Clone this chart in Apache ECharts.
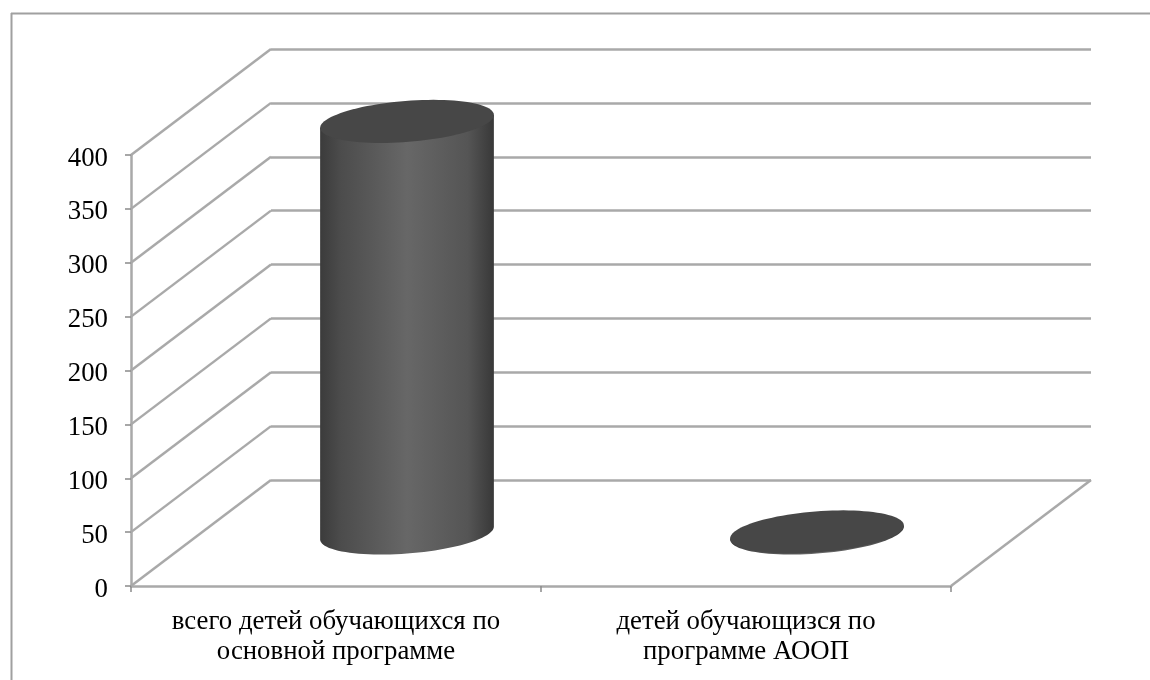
<!DOCTYPE html>
<html>
<head>
<meta charset="utf-8">
<script src="https://cdn.jsdelivr.net/npm/echarts@6/dist/echarts.min.js"></script>
<style>html,body{margin:0;padding:0;background:#fff}#c{width:1150px;height:680px}</style>
</head>
<body>
<div id="c"></div>
<script>
var categories = ['всего детей обучающихся по\nосновной программе', 'детей обучающизся по\nпрограмме АООП'];
var values = [382, 1];
var yTicks = [0, 50, 100, 150, 200, 250, 300, 350, 400];

var GREY = '#a9a9a9';
var DX = 140, DY = -106;
var FRONT = {left: 131, top: 155, width: 820, height: 431};
var FONT = '"Liberation Serif","Times New Roman",serif';

function ellipsePoint(cx, cy, a, b, th, t) {
  var x = a * Math.cos(t), y = b * Math.sin(t);
  return [cx + x * Math.cos(th) + y * Math.sin(th), cy - x * Math.sin(th) + y * Math.cos(th)];
}
function ellipsePoints(cx, cy, a, b, th) {
  var p = [];
  for (var i = 0; i < 96; i++) p.push(ellipsePoint(cx, cy, a, b, th, i / 96 * Math.PI * 2));
  return p;
}

var chart = echarts.init(document.getElementById('c'), null, {renderer: 'canvas'});
chart.setOption({
  animation: false,
  backgroundColor: '#fff',
  graphic: [
    {type: 'line', silent: true, shape: {x1: 11, y1: 13.5, x2: 1150, y2: 13.5}, style: {stroke: '#a0a0a0', lineWidth: 2}},
    {type: 'line', silent: true, shape: {x1: 11.5, y1: 13, x2: 11.5, y2: 680}, style: {stroke: '#a0a0a0', lineWidth: 2}}
  ],
  grid: [
    FRONT,
    {left: FRONT.left + DX, top: FRONT.top + DY, width: FRONT.width, height: FRONT.height},
    {left: FRONT.left + DX / 2 + 1, top: FRONT.top + DY / 2, width: FRONT.width, height: FRONT.height}
  ],
  xAxis: [
    {gridIndex: 0, type: 'category', data: categories,
      axisLine: {lineStyle: {color: GREY, width: 2.5}},
      axisTick: {show: true, interval: 0, length: 6, lineStyle: {color: '#8a8a8a', width: 1.5}},
      axisLabel: {interval: 0, hideOverlap: false, color: '#000', fontFamily: FONT, fontSize: 26.8, lineHeight: 30, margin: 21}},
    {gridIndex: 1, type: 'category', data: categories, show: false},
    {gridIndex: 2, type: 'category', data: categories, show: false}
  ],
  yAxis: [
    {gridIndex: 0, type: 'value', min: 0, max: 400, interval: 50,
      axisLine: {show: true, lineStyle: {color: GREY, width: 2.5}},
      axisTick: {show: true, length: 6, lineStyle: {color: '#8a8a8a', width: 1.5}},
      splitLine: {show: false},
      axisLabel: {color: '#000', fontFamily: FONT, fontSize: 26.8, margin: 23, verticalAlign: 'top', lineHeight: 7}},
    {gridIndex: 1, type: 'value', min: 0, max: 400, interval: 50,
      axisLine: {show: false}, axisTick: {show: false}, axisLabel: {show: false},
      splitLine: {show: true, lineStyle: {color: GREY, width: 2.5}}},
    {gridIndex: 2, type: 'value', min: 0, max: 400, interval: 50, show: false, splitLine: {show: false}}
  ],
  series: [
    {type: 'custom', xAxisIndex: 0, yAxisIndex: 0, data: yTicks, clip: false, silent: true, z: 1,
      encode: {y: 0},
      renderItem: function (params, api) {
        var y = api.coord([0, api.value(0)])[1], x = params.coordSys.x;
        return {type: 'line', shape: {x1: x, y1: y, x2: x + DX, y2: y + DY},
          style: {stroke: GREY, lineWidth: 2.5}};
      }},
    {type: 'custom', xAxisIndex: 0, yAxisIndex: 0, data: [0], clip: false, silent: true, z: 1,
      encode: {y: 0},
      renderItem: function (params, api) {
        var y = api.coord([0, api.value(0)])[1], x = params.coordSys.x + params.coordSys.width;
        return {type: 'line', shape: {x1: x, y1: y, x2: x + DX, y2: y + DY},
          style: {stroke: GREY, lineWidth: 2.5}};
      }},
    {type: 'custom', xAxisIndex: 2, yAxisIndex: 2, clip: false, silent: true, z: 3,
      data: values.map(function (v, i) { return [i, v]; }),
      encode: {x: 0, y: 1},
      renderItem: function (params, api) {
        var i = api.value(0), v = api.value(1);
        var top = api.coord([i, v]), base = api.coord([i, 0]);
        var a = api.size([1, 0])[0] * 0.2125, b = 20.5, th = 4.5 * Math.PI / 180;
        var body = [];
        var xt = Math.atan2(b * Math.sin(th), a * Math.cos(th));
        for (var k = 0; k <= 48; k++) {
          body.push(ellipsePoint(base[0], base[1], a, b, th, xt + Math.PI - k / 48 * Math.PI));
        }
        body.push(ellipsePoint(top[0], top[1], a, b, th, xt));
        body.push(ellipsePoint(top[0], top[1], a, b, th, xt + Math.PI));
        return {type: 'group', children: [
          {type: 'polygon', shape: {points: body}, style: {fill: new echarts.graphic.LinearGradient(0, 0, 1, 0, [
            {offset: 0, color: '#3b3b3b'}, {offset: 0.12, color: '#4c4c4c'}, {offset: 0.5, color: '#676767'},
            {offset: 0.85, color: '#555555'}, {offset: 1, color: '#383838'}])}},
          {type: 'polygon', shape: {points: ellipsePoints(top[0], top[1], a, b, th)}, style: {fill: '#474747'}}
        ]};
      }}
  ]
});
</script>
</body>
</html>
